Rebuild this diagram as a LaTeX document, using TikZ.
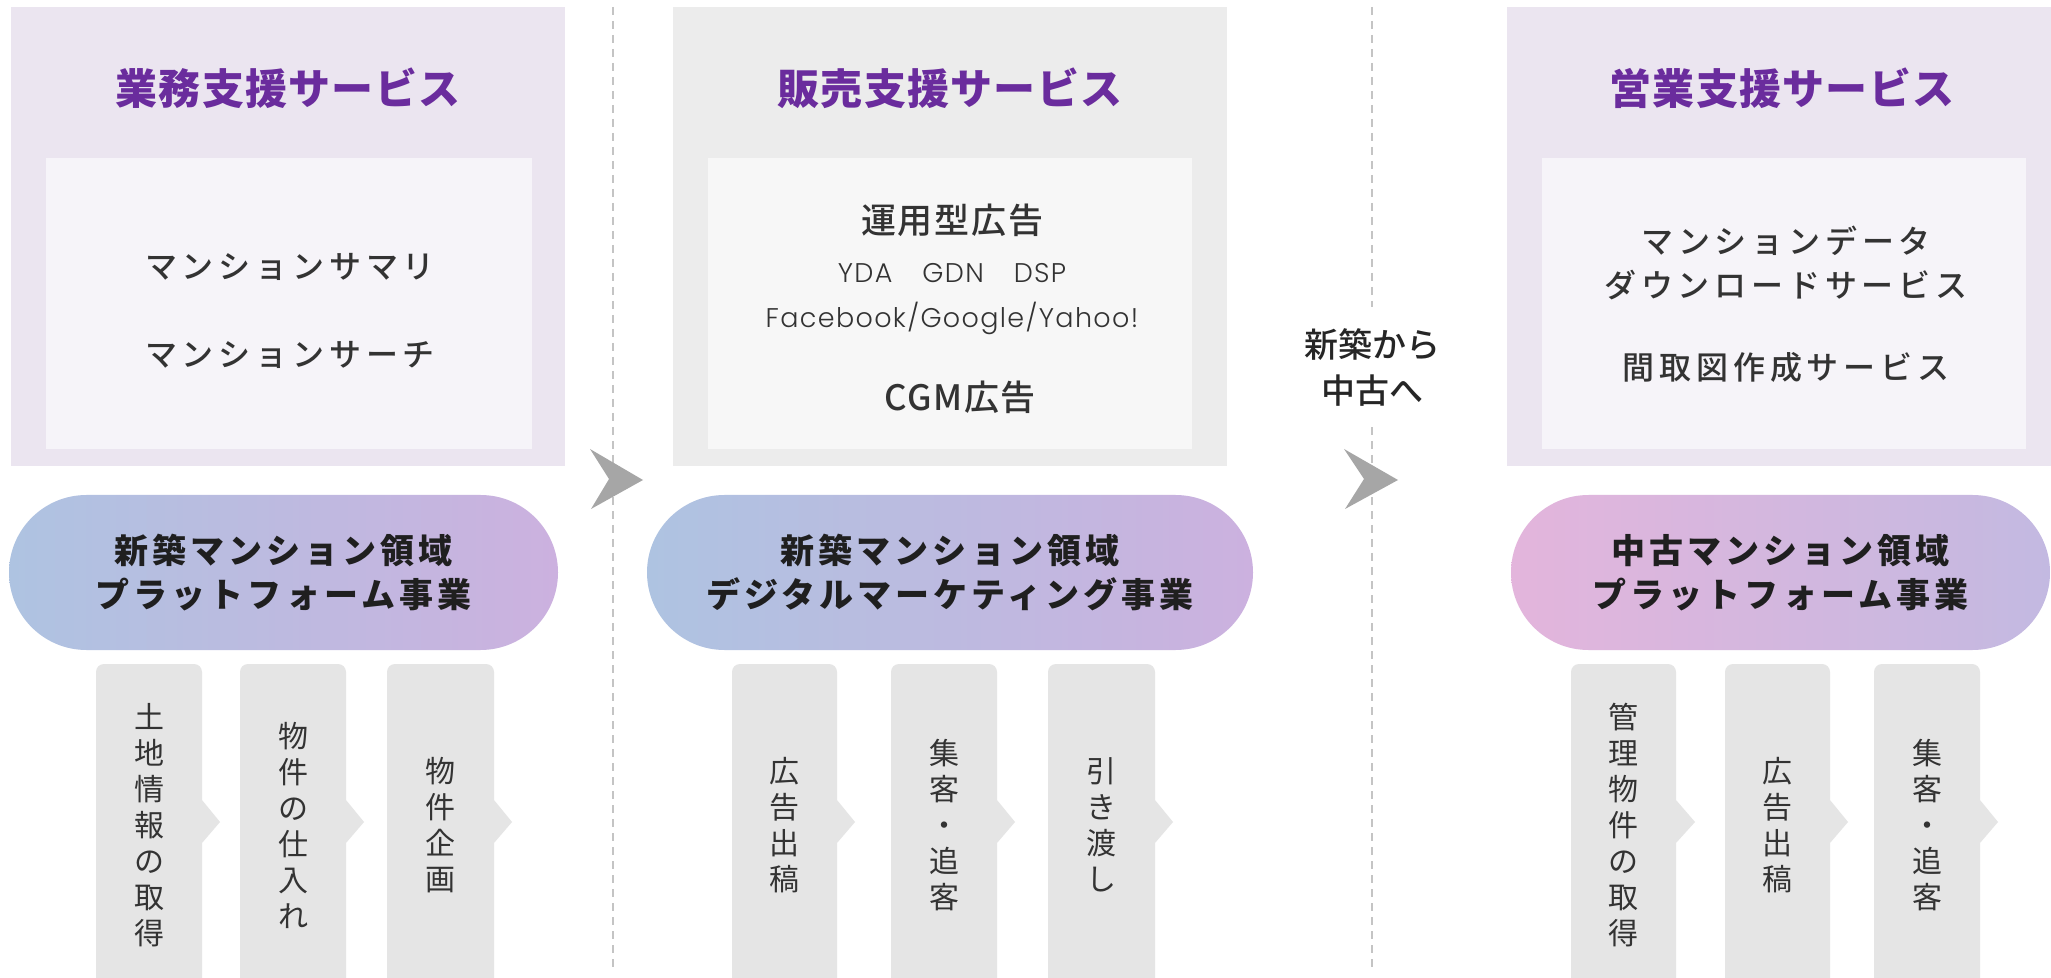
\documentclass[tikz,border=0pt]{standalone}
\usepackage{fontspec}
\setmainfont{Noto Sans CJK JP}
\newfontfamily\jpTitle[LetterSpace=3]{Noto Sans CJK JP}
\newfontfamily\jpPill[LetterSpace=12]{Noto Sans CJK JP}
\newfontfamily\jpPlain{Noto Sans CJK JP}
\IfFontExistsTF{Noto Sans CJK JP Medium}{%
  \newfontfamily\jpBody[LetterSpace=15]{Noto Sans CJK JP Medium}
  \newfontfamily\jpAd[LetterSpace=5]{Noto Sans CJK JP Medium}
  \newfontfamily\jpMid{Noto Sans CJK JP Medium}
}{%
  \newfontfamily\jpBody[LetterSpace=15,FakeBold=0.5]{Noto Sans CJK JP}
  \newfontfamily\jpAd[LetterSpace=5,FakeBold=0.5]{Noto Sans CJK JP}
  \newfontfamily\jpMid[FakeBold=0.5]{Noto Sans CJK JP}
}
\IfFontExistsTF{Poppins Light}{\newfontfamily\latn[LetterSpace=5]{Poppins Light}}{\newfontfamily\latn[LetterSpace=5]{Poppins}}
\usetikzlibrary{shapes.misc}
\definecolor{lavbg}{HTML}{EBE5F0}
\definecolor{lavin}{HTML}{F6F4F9}
\definecolor{graybg}{HTML}{ECECEC}
\definecolor{grayin}{HTML}{F7F7F7}
\definecolor{ttl}{HTML}{6A2C9D}
\definecolor{inkc}{HTML}{333333}
\definecolor{chevc}{HTML}{E5E5E5}
\definecolor{arrc}{HTML}{A6A6A6}
\definecolor{dashcol}{HTML}{C4C4C4}
\definecolor{pbl}{HTML}{AEC3E1}
\definecolor{ppu}{HTML}{CCB1DF}
\definecolor{ppk}{HTML}{E3B5DC}
\definecolor{pmid}{HTML}{D5B1DD}
\definecolor{plv}{HTML}{C3B9E1}
\tikzset{
  titlenode/.style={inner sep=0pt, text=ttl, font=\jpTitle\bfseries\fontsize{21}{25}\selectfont},
  bodynode/.style={inner sep=0pt, text=inkc, align=center, font=\jpBody\fontsize{16}{22}\selectfont},
  adnode/.style={inner sep=0pt, text=inkc, font=\jpAd\fontsize{17.5}{22}\selectfont},
  latnode/.style={inner sep=0pt, text=inkc, font=\latn\fontsize{13.5}{16}\selectfont},
  pillnode/.style={rounded rectangle, minimum height=77.5pt, inner sep=0pt, align=center, text=black!88, font=\jpPill\bfseries\fontsize{17}{22}\selectfont},
  vtext/.style={inner sep=0pt, align=center, text=inkc, font=\jpPlain\fontsize{15}{18}\selectfont},
  sepline/.style={draw=dashcol, line width=1pt, dash pattern=on 4pt off 3pt},
  arrowfill/.style={fill=arrc},
}
\newcommand{\mkchev}[5]{%
  \fill[chevc] (#1,1000) [rounded corners=4pt] -- (#1,664) -- (#2,664) -- (#2,700) [sharp corners] -- (#2,800) -- (#3,822) -- (#2,843) -- (#2,1000) -- cycle;
  \node[vtext] (#4) at ({(#1+#2)/2},825) {#5};
}
\begin{document}
\begin{tikzpicture}[x=0.5pt,y=-0.5pt]
\useasboundingbox[fill=white] (0,0) rectangle (2051,978);
% service boxes
\fill[lavbg] (11,7) rectangle (565,466);
\fill[lavin] (46,158) rectangle (532,449);
\fill[graybg] (673,7) rectangle (1227,466);
\fill[grayin] (708,158) rectangle (1192,449);
\fill[lavbg] (1507,7) rectangle (2051,466);
\fill[lavin] (1542,158) rectangle (2026,449);
% titles
\node[titlenode] (t1) at (288,88) {業務支援サービス};
\node[titlenode] (t2) at (950,88) {販売支援サービス};
\node[titlenode] (t3) at (1782,88) {営業支援サービス};
% box texts
\node[bodynode] (s1a) at (290,267) {マンションサマリ};
\node[bodynode] (s1b) at (290,355) {マンションサーチ};
\node[adnode] (s2a) at (952,220) {運用型広告};
\node[latnode] (s2b) at (952,273) {YDA\hspace{15pt}GDN\hspace{15pt}DSP};
\node[latnode] (s2c) at (952,318) {Facebook/Google/Yahoo!};
\node[adnode] (s2d) at (960,397) {CGM広告};
\node[bodynode] (s3a) at (1786,263) {マンションデータ\\ダウンロードサービス};
\node[bodynode] (s3b) at (1786,367) {間取図作成サービス};
% separators
\coordinate (d1t) at (613,7);
\coordinate (d1b) at (613,968);
\coordinate (d2t) at (1372,7);
\coordinate (d2b) at (1372,968);
\draw[sepline] (d1t) -- (d1b);
\draw[sepline] (d2t) -- (d2b);
\node[fill=white, inner sep=0pt, minimum width=75pt, minimum height=60pt, align=center, text=black!85, font=\jpMid\fontsize{17}{23}\selectfont] (mid) at (1372,367) {新築から\\中古へ};
% arrows
\fill[arrowfill] (590,449) -- (643,480) -- (591,509) -- (609,479) -- cycle;
\fill[arrowfill] (1344,449) -- (1398,480) -- (1345,509) -- (1364,479) -- cycle;
% pills
\node[pillnode, minimum width=274.5pt, left color=pbl, right color=ppu] (p1) at (283.5,572.5) {新築マンション領域\\プラットフォーム事業};
\node[pillnode, minimum width=303pt, left color=pbl, right color=ppu] (p2) at (950,572.5) {新築マンション領域\\デジタルマーケティング事業};
\node[pillnode, minimum width=269.5pt, left color=ppk, middle color=pmid, right color=plv] (p3) at (1780.5,572.5) {中古マンション領域\\プラットフォーム事業};
% step boxes
\mkchev{96}{202}{220}{c11}{土\\地\\情\\報\\の\\取\\得}
\mkchev{240}{346}{364}{c12}{物\\件\\の\\仕\\入\\れ}
\mkchev{387}{494}{512}{c13}{物\\件\\企\\画}
\mkchev{732}{837}{855}{c21}{広\\告\\出\\稿}
\mkchev{891}{997}{1015}{c22}{集\\客\\・\\追\\客}
\mkchev{1048}{1155}{1173}{c23}{引\\き\\渡\\し}
\mkchev{1571}{1676}{1695}{c31}{管\\理\\物\\件\\の\\取\\得}
\mkchev{1725}{1830}{1848}{c32}{広\\告\\出\\稿}
\mkchev{1874}{1980}{1998}{c33}{集\\客\\・\\追\\客}
\end{tikzpicture}
\end{document}
